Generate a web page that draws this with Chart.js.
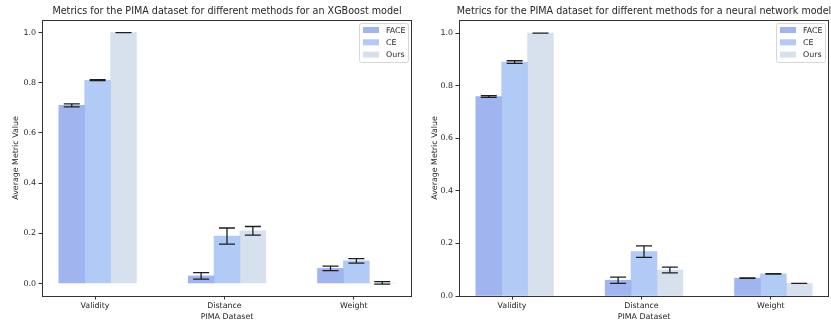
<!DOCTYPE html>
<html>
<head>
<meta charset="utf-8">
<script src="https://cdn.jsdelivr.net/npm/chart.js@4.4.0/dist/chart.umd.min.js"></script>
<style>
  html, body { margin: 0; padding: 0; background: #fff; }
  #wrap { position: relative; width: 831px; height: 326px; overflow: hidden; }
  #c1 { position: absolute; left: 0; top: 0; }
  #c2 { position: absolute; left: 415px; top: 0; }
</style>
</head>
<body>
<div id="wrap">
  <canvas id="c1" width="415" height="326"></canvas>
  <canvas id="c2" width="416" height="326"></canvas>
</div>
<script>
// ---- data ----
const categories = ['Validity', 'Distance', 'Weight'];
const methods = ['FACE', 'CE', 'Ours'];
const yTicks = [0.0, 0.2, 0.4, 0.6, 0.8, 1.0];

// XGBoost model: mean and spread per metric
const xgbFace    = [0.710, 0.030, 0.060];
const xgbFaceErr = [0.006, 0.013, 0.009];
const xgbCE      = [0.810, 0.189, 0.090];
const xgbCEErr   = [0.002, 0.032, 0.009];
const xgbOurs    = [1.000, 0.210, 0.002];
const xgbOursErr = [0.000, 0.017, 0.005];

// neural network model: mean and spread per metric
const nnFace    = [0.759, 0.060, 0.068];
const nnFaceErr = [0.003, 0.012, 0.001];
const nnCE      = [0.890, 0.169, 0.084];
const nnCEErr   = [0.005, 0.022, 0.001];
const nnOurs    = [1.000, 0.099, 0.048];
const nnOursErr = [0.000, 0.011, 0.000];

// ---- styling ----
const FONT = "'DejaVu Sans', 'Liberation Sans', sans-serif";
const TEXT = '#262626';
const AXIS = '#333333';
// half-tone royalblue / cornflowerblue / lightsteelblue on white
const methodColors = ['rgb(160,180,240)', 'rgb(177,202,246)', 'rgb(215,225,238)'];
const slotOffset = [-0.18, 0.02, 0.22];   // bar centre relative to the category tick
const xRange = [-0.41, 2.45];

// axes frame on all four sides
const framePlugin = {
  id: 'frame',
  afterDraw(chart) {
    const { ctx, chartArea: a } = chart;
    ctx.save();
    ctx.strokeStyle = AXIS;
    ctx.lineWidth = 1;
    ctx.strokeRect(Math.round(a.left) + 0.5, Math.round(a.top) + 0.5,
                   Math.round(a.right - a.left) - 1, Math.round(a.bottom - a.top));
    ctx.restore();
  }
};

// chart title centred over the plot area
const headingPlugin = {
  id: 'heading',
  afterDraw(chart, args, opts) {
    const { ctx, chartArea: a } = chart;
    ctx.save();
    ctx.font = `9.6px ${FONT}`;
    ctx.fillStyle = TEXT;
    ctx.textAlign = 'center';
    ctx.textBaseline = 'middle';
    ctx.fillText(opts.text, (a.left + a.right) / 2, 11);
    ctx.restore();
  }
};

// symmetric error bars with caps
const errorBarPlugin = {
  id: 'errorBars',
  afterDatasetsDraw(chart) {
    const { ctx } = chart;
    const yS = chart.scales.y;
    chart.data.datasets.forEach((ds, di) => {
      const meta = chart.getDatasetMeta(di);
      meta.data.forEach((bar, i) => {
        const v = ds.data[i].y, e = ds.errors[i];
        const yHi = yS.getPixelForValue(v + e);
        const yLo = yS.getPixelForValue(v - e);
        ctx.save();
        ctx.strokeStyle = '#1e1e1e';
        ctx.lineWidth = 1.3;
        ctx.beginPath();
        ctx.moveTo(bar.x, yHi); ctx.lineTo(bar.x, yLo);
        ctx.moveTo(bar.x - 8, yHi); ctx.lineTo(bar.x + 8, yHi);
        ctx.moveTo(bar.x - 8, yLo); ctx.lineTo(bar.x + 8, yLo);
        ctx.stroke();
        ctx.restore();
      });
    });
  }
};

// legend box in the upper-right corner of the plot area
const legendBoxPlugin = {
  id: 'legendBox',
  afterDraw(chart) {
    const { ctx, chartArea: a } = chart;
    const w = 49, h = 39;
    const x0 = a.right - 4 - w, y0 = a.top + 3;
    ctx.save();
    ctx.beginPath();
    ctx.roundRect(x0 + 0.5, y0 + 0.5, w, h, 2);
    ctx.fillStyle = 'rgba(255,255,255,0.8)';
    ctx.fill();
    ctx.strokeStyle = '#d6d6d6';
    ctx.lineWidth = 1;
    ctx.stroke();
    ctx.font = `7.9px ${FONT}`;
    ctx.textAlign = 'left';
    ctx.textBaseline = 'middle';
    chart.data.datasets.forEach((ds, i) => {
      const cy = y0 + 7 + i * 12.3;
      ctx.fillStyle = ds.backgroundColor;
      ctx.fillRect(x0 + 4, cy - 3, 16, 6);
      ctx.fillStyle = TEXT;
      ctx.fillText(ds.label, x0 + 27, cy + 0.5);
    });
    ctx.restore();
  }
};

function buildDatasets(series, errs) {
  return methods.map((m, k) => ({
    label: m,
    data: series[k].map((v, i) => ({ x: i + slotOffset[k], y: v })),
    errors: errs[k],
    backgroundColor: methodColors[k],
    borderWidth: 0,
    grouped: false,
    barPercentage: 1,
    categoryPercentage: 1
  }));
}

function makeChart(id, title, series, errs, yMin, yMax, yAxisWidth, padRight, yTitlePad) {
  return new Chart(document.getElementById(id), {
    type: 'bar',
    data: { datasets: buildDatasets(series, errs) },
    options: {
      responsive: false,
      animation: false,
      layout: { padding: { top: 20, right: padRight, left: 0, bottom: 0 } },
      plugins: {
        legend: { display: false },
        tooltip: { enabled: false },
        heading: { text: title }
      },
      scales: {
        x: {
          type: 'linear',
          min: xRange[0], max: xRange[1],
          offset: false,
          afterBuildTicks: s => { s.ticks = categories.map((c, i) => ({ value: i })); },
          afterFit: s => { s.height = 30; },
          ticks: {
            autoSkip: false, maxRotation: 0, padding: 2,
            color: TEXT, font: { family: FONT, size: 7.9 },
            callback: (v, i) => categories[i]
          },
          grid: { display: true, offset: false, drawOnChartArea: false, drawTicks: true,
                  tickLength: 3.5, color: AXIS, lineWidth: 1 },
          border: { display: false },
          title: { display: true, text: 'PIMA Dataset', color: TEXT,
                   font: { family: FONT, size: 7.9 }, padding: { top: 0, bottom: 4.6 } }
        },
        y: {
          min: yMin, max: yMax,
          afterBuildTicks: s => { s.ticks = yTicks.map(v => ({ value: v })); },
          afterFit: s => { s.width = yAxisWidth; },
          ticks: { padding: 2.5, color: TEXT, font: { family: FONT, size: 7.9 },
                   callback: v => v.toFixed(1) },
          grid: { display: true, drawOnChartArea: false, drawTicks: true,
                  tickLength: 3.5, color: AXIS, lineWidth: 1 },
          border: { display: false },
          title: { display: true, text: 'Average Metric Value', color: TEXT,
                   font: { family: FONT, size: 7.9 }, padding: { top: yTitlePad, bottom: 0 } }
        }
      }
    },
    plugins: [framePlugin, headingPlugin, errorBarPlugin, legendBoxPlugin]
  });
}

makeChart('c1', 'Metrics for the PIMA dataset for different methods for an XGBoost model',
          [xgbFace, xgbCE, xgbOurs], [xgbFaceErr, xgbCEErr, xgbOursErr],
          -0.05, 1.05, 42, 3, 10.8);
makeChart('c2', 'Metrics for the PIMA dataset for different methods for a neural network model',
          [nnFace, nnCE, nnOurs], [nnFaceErr, nnCEErr, nnOursErr],
          0, 1.05, 44, 2, 15.3);
</script>
</body>
</html>
